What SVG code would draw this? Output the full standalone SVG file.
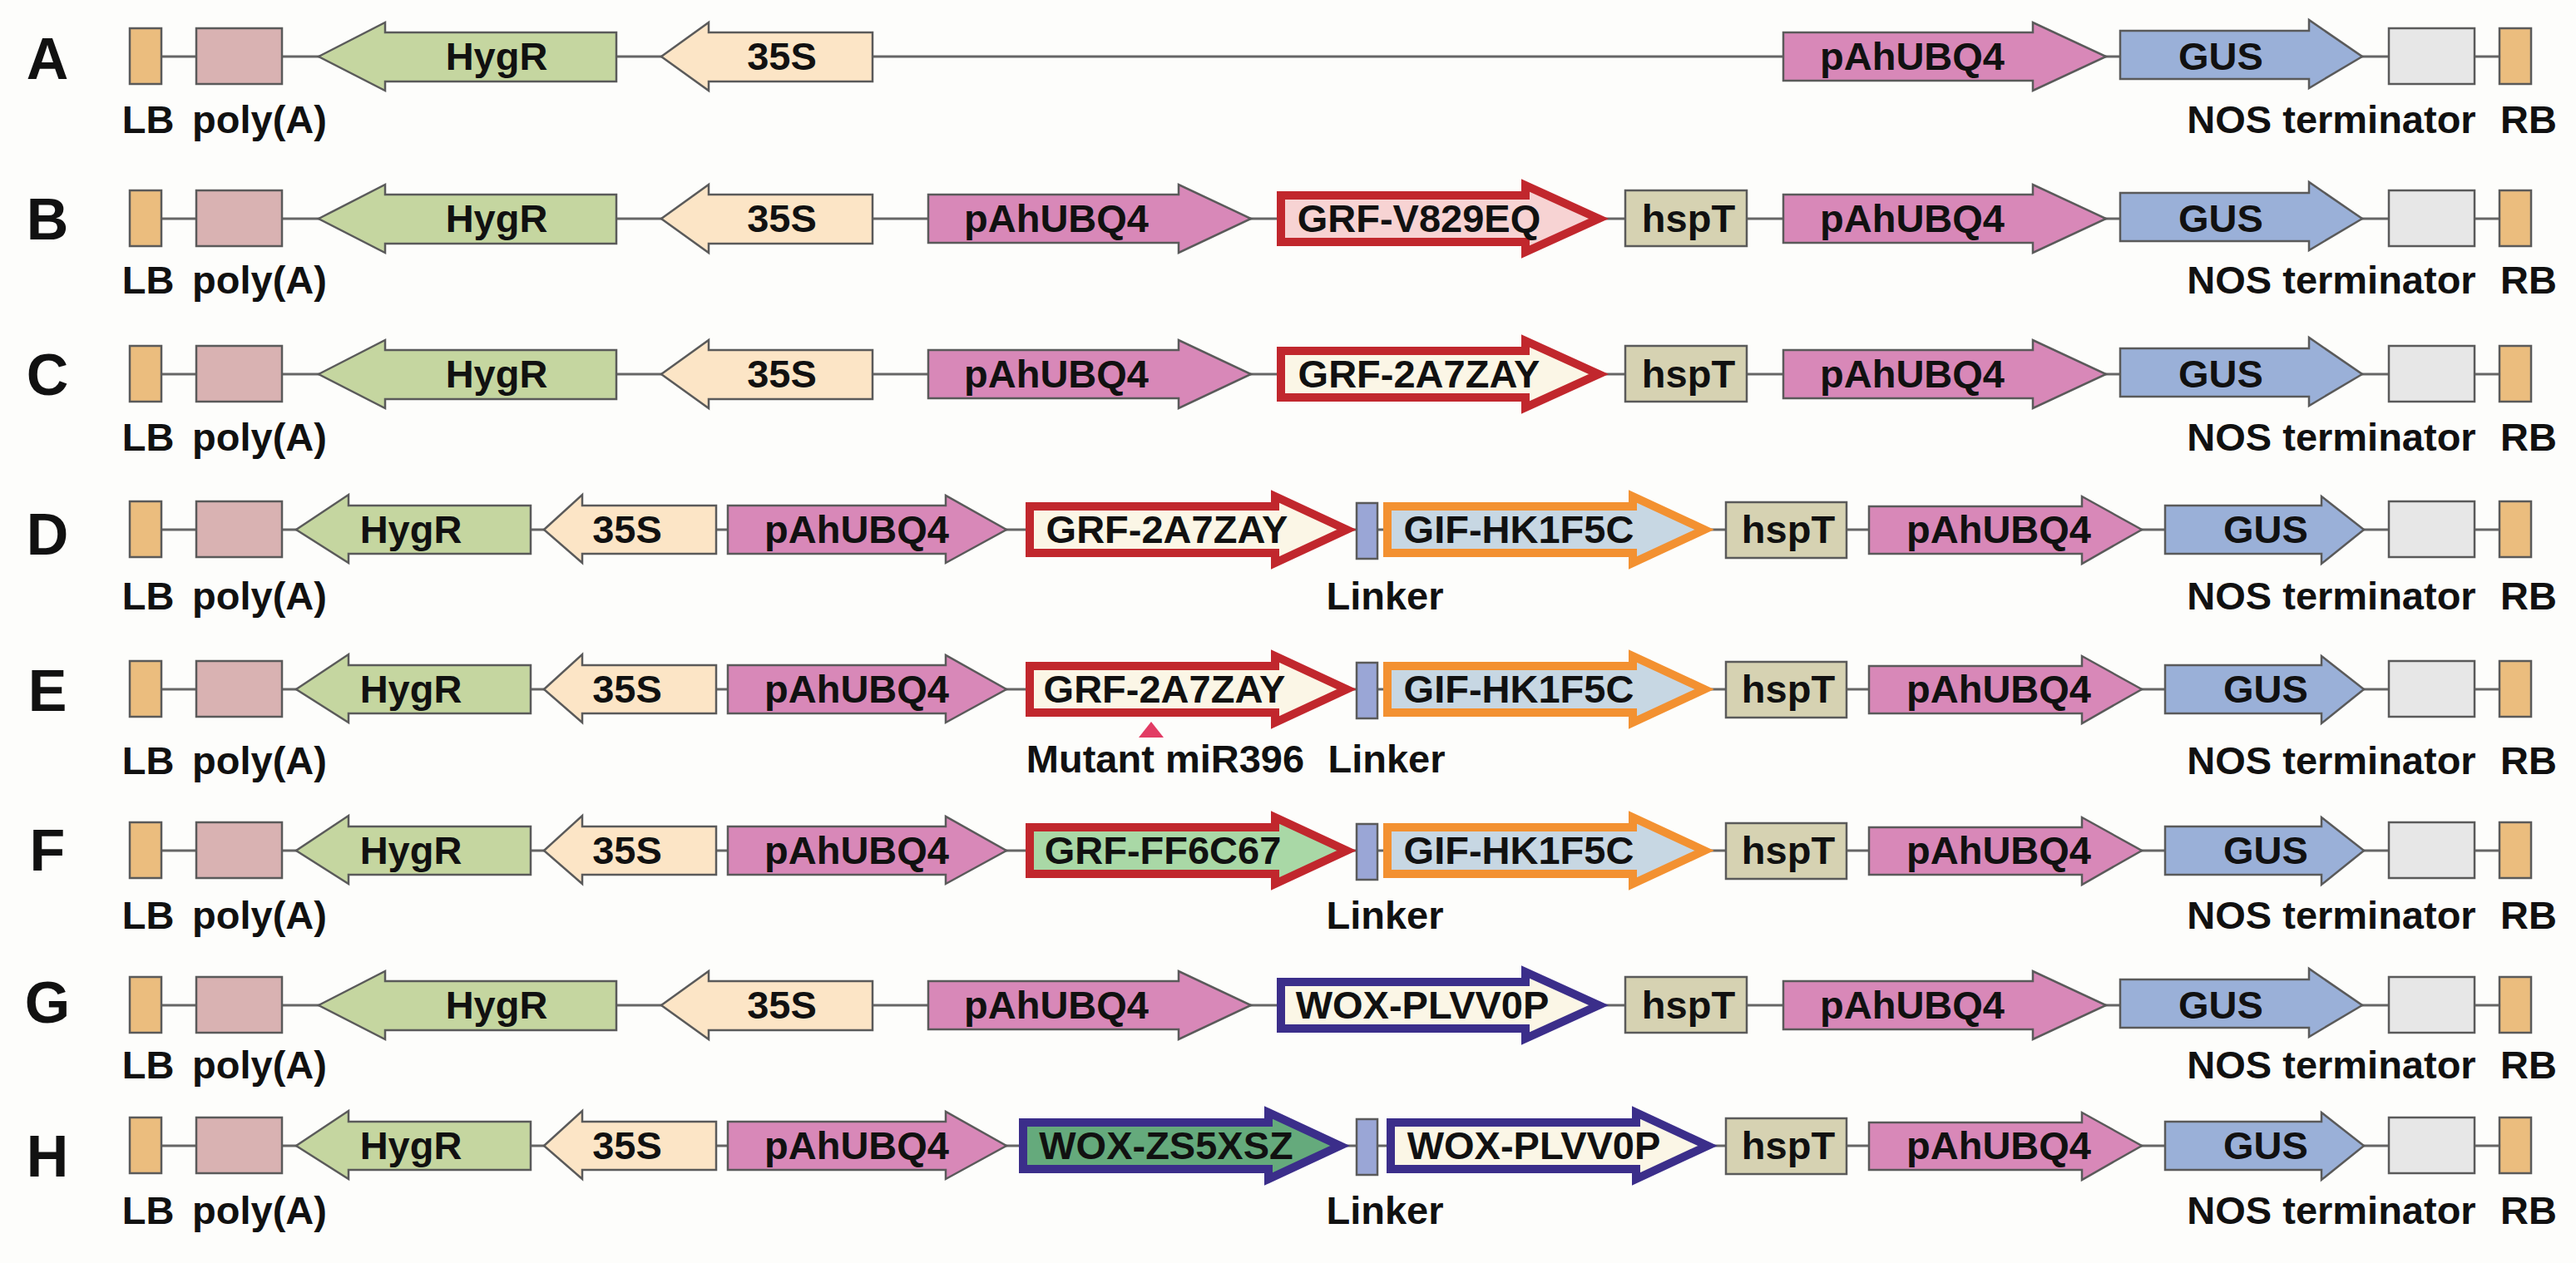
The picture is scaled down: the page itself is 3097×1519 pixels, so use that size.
<svg xmlns="http://www.w3.org/2000/svg" xmlns:xlink="http://www.w3.org/1999/xlink" width="3097" height="1519" viewBox="0 0 3097 1519">
<style>
.bg{fill:#fdfdfb}
.sh{stroke:#5a5a5a;stroke-width:2.5}
.lb{fill:#ebbd7e}
.pa{fill:#d9b2b2}
.hy{fill:#c5d6a0}
.s35{fill:#fce5c6}
.ubq{fill:#d888b8}
.hsp{fill:#d6d2b2}
.gus{fill:#9ab0d8}
.nos{fill:#e7e7e7}
.lk{fill:#9aa6d6}
.cds{stroke-width:10;stroke-linejoin:miter;stroke-miterlimit:10}
.red{stroke:#c1272d}
.org{stroke:#f39131}
.nav{stroke:#3b2e8a}
.fpink{fill:#f7d3d3}
.fcream{fill:#fbf6e6}
.fblue{fill:#c7d7e3}
.fgreen{fill:#a9d8a6}
.fdgreen{fill:#65aa7c}
.con{stroke:#666;stroke-width:3;fill:none}
.t{font-family:'Liberation Sans',Arial,sans-serif;font-weight:bold;font-size:47px;fill:#111;text-anchor:middle}
.L{font-family:'Liberation Sans',Arial,sans-serif;font-weight:bold;font-size:70px;fill:#111;text-anchor:middle}
.mut{fill:#e23b63}
</style>
<defs>
<rect id="lb" class="sh lb" x="156" y="-34" width="38" height="67"/>
<rect id="poly" class="sh pa" x="236" y="-34" width="103" height="67"/>
<rect id="nos" class="sh nos" x="2872" y="-34" width="103" height="67"/>
<rect id="rb" class="sh lb" x="3005" y="-34" width="38" height="67"/>
<polygon id="hygr1" class="sh hy" points="383,0 463,-41 463,-29 741,-29 741,30 463,30 463,41"/>
<polygon id="s35a" class="sh s35" points="795,0 852,-41 852,-29 1049,-29 1049,30 852,30 852,41"/>
<polygon id="ubq1a" class="sh ubq" points="1116,-29 1417,-29 1417,-41 1504,0 1417,41 1417,29 1116,29"/>
<path id="cds1" d="M1540,-28 H1834 V-40 L1922,0 L1834,40 V28 H1540 Z"/>
<rect id="hsp1" class="sh hsp" x="1954" y="-34" width="146" height="67"/>
<polygon id="ubq1b" class="sh ubq" points="2144,-29 2444,-29 2444,-41 2532,0 2444,41 2444,29 2144,29"/>
<polygon id="gus1" class="sh gus" points="2549,-31 2776,-31 2776,-44 2840,0 2776,38 2776,27 2549,27"/>
<polygon id="hygr2" class="sh hy" points="356,0 419,-42 419,-29 638,-29 638,29 419,29 419,40"/>
<polygon id="s35b" class="sh s35" points="654,0 700,-42 700,-29 861,-29 861,29 700,29 700,40"/>
<polygon id="ubq2a" class="sh ubq" points="875,-29 1137,-29 1137,-41 1210,0 1137,40 1137,29 875,29"/>
<path id="cds2a" d="M1238,-28 H1533 V-40 L1619,0 L1533,40 V28 H1238 Z"/>
<rect id="lk" class="sh lk" x="1631" y="-32" width="25" height="67"/>
<path id="cds2b" d="M1668,-28 H1963 V-40 L2049,0 L1963,40 V28 H1668 Z"/>
<rect id="hsp2" class="sh hsp" x="2075" y="-33" width="145" height="67"/>
<polygon id="ubq2b" class="sh ubq" points="2247,-28 2503,-28 2503,-40 2575,0 2503,41 2503,29 2247,29"/>
<polygon id="gus2" class="sh gus" points="2603,-29 2791,-29 2791,-40 2842,0 2791,41 2791,29 2603,29"/>
</defs>
<rect class="bg" x="0" y="0" width="3097" height="1519"/>

<g id="connectors">
<line class="con" x1="194" y1="68" x2="3005" y2="68"/>
<line class="con" x1="194" y1="263" x2="3005" y2="263"/>
<line class="con" x1="194" y1="450" x2="3005" y2="450"/>
<line class="con" x1="194" y1="637" x2="3005" y2="637"/>
<line class="con" x1="194" y1="829" x2="3005" y2="829"/>
<line class="con" x1="194" y1="1023" x2="3005" y2="1023"/>
<line class="con" x1="194" y1="1209" x2="3005" y2="1209"/>
<line class="con" x1="194" y1="1378" x2="3005" y2="1378"/>
</g>

<!-- Row A -->
<g id="rowA" transform="translate(0,68)">
<text class="L" x="57" y="27">A</text>
<g id="A-LB"><use xlink:href="#lb"/><text class="t" x="178" y="92">LB</text></g>
<g id="A-polyA"><use xlink:href="#poly"/><text class="t" x="312" y="92">poly(A)</text></g>
<g id="A-HygR"><use xlink:href="#hygr1"/><text class="t" x="597" y="16">HygR</text></g>
<g id="A-35S"><use xlink:href="#s35a"/><text class="t" x="940" y="16">35S</text></g>
<g id="A-pAhUBQ4"><use xlink:href="#ubq1b"/><text class="t" x="2299" y="16">pAhUBQ4</text></g>
<g id="A-GUS"><use xlink:href="#gus1"/><text class="t" x="2670" y="16">GUS</text></g>
<g id="A-NOS"><use xlink:href="#nos"/><text class="t" x="2803" y="92">NOS terminator</text></g>
<g id="A-RB"><use xlink:href="#rb"/><text class="t" x="3040" y="92">RB</text></g>
</g>

<!-- Row B -->
<g id="rowB" transform="translate(0,263)">
<text class="L" x="57" y="25">B</text>
<g id="B-LB"><use xlink:href="#lb"/><text class="t" x="178" y="90">LB</text></g>
<g id="B-polyA"><use xlink:href="#poly"/><text class="t" x="312" y="90">poly(A)</text></g>
<g id="B-HygR"><use xlink:href="#hygr1"/><text class="t" x="597" y="16">HygR</text></g>
<g id="B-35S"><use xlink:href="#s35a"/><text class="t" x="940" y="16">35S</text></g>
<g id="B-pAhUBQ4a"><use xlink:href="#ubq1a"/><text class="t" x="1270" y="16">pAhUBQ4</text></g>
<g id="B-GRF"><use xlink:href="#cds1" class="cds red fpink"/><text class="t" x="1706" y="16">GRF-V829EQ</text></g>
<g id="B-hspT"><use xlink:href="#hsp1"/><text class="t" x="2030" y="16">hspT</text></g>
<g id="B-pAhUBQ4b"><use xlink:href="#ubq1b"/><text class="t" x="2299" y="16">pAhUBQ4</text></g>
<g id="B-GUS"><use xlink:href="#gus1"/><text class="t" x="2670" y="16">GUS</text></g>
<g id="B-NOS"><use xlink:href="#nos"/><text class="t" x="2803" y="90">NOS terminator</text></g>
<g id="B-RB"><use xlink:href="#rb"/><text class="t" x="3040" y="90">RB</text></g>
</g>

<!-- Row C -->
<g id="rowC" transform="translate(0,450)">
<text class="L" x="57" y="25">C</text>
<g id="C-LB"><use xlink:href="#lb"/><text class="t" x="178" y="92">LB</text></g>
<g id="C-polyA"><use xlink:href="#poly"/><text class="t" x="312" y="92">poly(A)</text></g>
<g id="C-HygR"><use xlink:href="#hygr1"/><text class="t" x="597" y="16">HygR</text></g>
<g id="C-35S"><use xlink:href="#s35a"/><text class="t" x="940" y="16">35S</text></g>
<g id="C-pAhUBQ4a"><use xlink:href="#ubq1a"/><text class="t" x="1270" y="16">pAhUBQ4</text></g>
<g id="C-GRF"><use xlink:href="#cds1" class="cds red fcream"/><text class="t" x="1706" y="16">GRF-2A7ZAY</text></g>
<g id="C-hspT"><use xlink:href="#hsp1"/><text class="t" x="2030" y="16">hspT</text></g>
<g id="C-pAhUBQ4b"><use xlink:href="#ubq1b"/><text class="t" x="2299" y="16">pAhUBQ4</text></g>
<g id="C-GUS"><use xlink:href="#gus1"/><text class="t" x="2670" y="16">GUS</text></g>
<g id="C-NOS"><use xlink:href="#nos"/><text class="t" x="2803" y="92">NOS terminator</text></g>
<g id="C-RB"><use xlink:href="#rb"/><text class="t" x="3040" y="92">RB</text></g>
</g>

<!-- Row D -->
<g id="rowD" transform="translate(0,637)">
<text class="L" x="57" y="30">D</text>
<g id="D-LB"><use xlink:href="#lb"/><text class="t" x="178" y="96">LB</text></g>
<g id="D-polyA"><use xlink:href="#poly"/><text class="t" x="312" y="96">poly(A)</text></g>
<g id="D-HygR"><use xlink:href="#hygr2"/><text class="t" x="494" y="16">HygR</text></g>
<g id="D-35S"><use xlink:href="#s35b"/><text class="t" x="754" y="16">35S</text></g>
<g id="D-pAhUBQ4a"><use xlink:href="#ubq2a"/><text class="t" x="1030" y="16">pAhUBQ4</text></g>
<g id="D-GRF"><use xlink:href="#cds2a" class="cds red fcream"/><text class="t" x="1403" y="16">GRF-2A7ZAY</text></g>
<g id="D-Linker"><use xlink:href="#lk"/><text class="t" x="1665" y="96">Linker</text></g>
<g id="D-GIF"><use xlink:href="#cds2b" class="cds org fblue"/><text class="t" x="1826" y="16">GIF-HK1F5C</text></g>
<g id="D-hspT"><use xlink:href="#hsp2"/><text class="t" x="2150" y="16">hspT</text></g>
<g id="D-pAhUBQ4b"><use xlink:href="#ubq2b"/><text class="t" x="2403" y="16">pAhUBQ4</text></g>
<g id="D-GUS"><use xlink:href="#gus2"/><text class="t" x="2724" y="16">GUS</text></g>
<g id="D-NOS"><use xlink:href="#nos"/><text class="t" x="2803" y="96">NOS terminator</text></g>
<g id="D-RB"><use xlink:href="#rb"/><text class="t" x="3040" y="96">RB</text></g>
</g>

<!-- Row E -->
<g id="rowE" transform="translate(0,829)">
<text class="L" x="57" y="26">E</text>
<g id="E-LB"><use xlink:href="#lb"/><text class="t" x="178" y="102">LB</text></g>
<g id="E-polyA"><use xlink:href="#poly"/><text class="t" x="312" y="102">poly(A)</text></g>
<g id="E-HygR"><use xlink:href="#hygr2"/><text class="t" x="494" y="16">HygR</text></g>
<g id="E-35S"><use xlink:href="#s35b"/><text class="t" x="754" y="16">35S</text></g>
<g id="E-pAhUBQ4a"><use xlink:href="#ubq2a"/><text class="t" x="1030" y="16">pAhUBQ4</text></g>
<g id="E-GRF"><use xlink:href="#cds2a" class="cds red fcream"/><text class="t" x="1400" y="16">GRF-2A7ZAY</text></g>
<g id="E-mutant"><polygon class="mut" points="1384,39 1369,58 1399,58"/><text class="t" x="1401" y="100">Mutant miR396</text></g>
<g id="E-Linker"><use xlink:href="#lk"/><text class="t" x="1667" y="100">Linker</text></g>
<g id="E-GIF"><use xlink:href="#cds2b" class="cds org fblue"/><text class="t" x="1826" y="16">GIF-HK1F5C</text></g>
<g id="E-hspT"><use xlink:href="#hsp2"/><text class="t" x="2150" y="16">hspT</text></g>
<g id="E-pAhUBQ4b"><use xlink:href="#ubq2b"/><text class="t" x="2403" y="16">pAhUBQ4</text></g>
<g id="E-GUS"><use xlink:href="#gus2"/><text class="t" x="2724" y="16">GUS</text></g>
<g id="E-NOS"><use xlink:href="#nos"/><text class="t" x="2803" y="102">NOS terminator</text></g>
<g id="E-RB"><use xlink:href="#rb"/><text class="t" x="3040" y="102">RB</text></g>
</g>

<!-- Row F -->
<g id="rowF" transform="translate(0,1023)">
<text class="L" x="57" y="24">F</text>
<g id="F-LB"><use xlink:href="#lb"/><text class="t" x="178" y="94">LB</text></g>
<g id="F-polyA"><use xlink:href="#poly"/><text class="t" x="312" y="94">poly(A)</text></g>
<g id="F-HygR"><use xlink:href="#hygr2"/><text class="t" x="494" y="16">HygR</text></g>
<g id="F-35S"><use xlink:href="#s35b"/><text class="t" x="754" y="16">35S</text></g>
<g id="F-pAhUBQ4a"><use xlink:href="#ubq2a"/><text class="t" x="1030" y="16">pAhUBQ4</text></g>
<g id="F-GRF"><use xlink:href="#cds2a" class="cds red fgreen"/><text class="t" x="1398" y="16">GRF-FF6C67</text></g>
<g id="F-Linker"><use xlink:href="#lk"/><text class="t" x="1665" y="94">Linker</text></g>
<g id="F-GIF"><use xlink:href="#cds2b" class="cds org fblue"/><text class="t" x="1826" y="16">GIF-HK1F5C</text></g>
<g id="F-hspT"><use xlink:href="#hsp2"/><text class="t" x="2150" y="16">hspT</text></g>
<g id="F-pAhUBQ4b"><use xlink:href="#ubq2b"/><text class="t" x="2403" y="16">pAhUBQ4</text></g>
<g id="F-GUS"><use xlink:href="#gus2"/><text class="t" x="2724" y="16">GUS</text></g>
<g id="F-NOS"><use xlink:href="#nos"/><text class="t" x="2803" y="94">NOS terminator</text></g>
<g id="F-RB"><use xlink:href="#rb"/><text class="t" x="3040" y="94">RB</text></g>
</g>

<!-- Row G -->
<g id="rowG" transform="translate(0,1209)">
<text class="L" x="57" y="21">G</text>
<g id="G-LB"><use xlink:href="#lb"/><text class="t" x="178" y="88">LB</text></g>
<g id="G-polyA"><use xlink:href="#poly"/><text class="t" x="312" y="88">poly(A)</text></g>
<g id="G-HygR"><use xlink:href="#hygr1"/><text class="t" x="597" y="16">HygR</text></g>
<g id="G-35S"><use xlink:href="#s35a"/><text class="t" x="940" y="16">35S</text></g>
<g id="G-pAhUBQ4a"><use xlink:href="#ubq1a"/><text class="t" x="1270" y="16">pAhUBQ4</text></g>
<g id="G-WOX"><use xlink:href="#cds1" class="cds nav fcream"/><text class="t" x="1710" y="16">WOX-PLVV0P</text></g>
<g id="G-hspT"><use xlink:href="#hsp1"/><text class="t" x="2030" y="16">hspT</text></g>
<g id="G-pAhUBQ4b"><use xlink:href="#ubq1b"/><text class="t" x="2299" y="16">pAhUBQ4</text></g>
<g id="G-GUS"><use xlink:href="#gus1"/><text class="t" x="2670" y="16">GUS</text></g>
<g id="G-NOS"><use xlink:href="#nos"/><text class="t" x="2803" y="88">NOS terminator</text></g>
<g id="G-RB"><use xlink:href="#rb"/><text class="t" x="3040" y="88">RB</text></g>
</g>

<!-- Row H -->
<g id="rowH" transform="translate(0,1378)">
<text class="L" x="57" y="37">H</text>
<g id="H-LB"><use xlink:href="#lb"/><text class="t" x="178" y="94">LB</text></g>
<g id="H-polyA"><use xlink:href="#poly"/><text class="t" x="312" y="94">poly(A)</text></g>
<g id="H-HygR"><use xlink:href="#hygr2"/><text class="t" x="494" y="16">HygR</text></g>
<g id="H-35S"><use xlink:href="#s35b"/><text class="t" x="754" y="16">35S</text></g>
<g id="H-pAhUBQ4a"><use xlink:href="#ubq2a"/><text class="t" x="1030" y="16">pAhUBQ4</text></g>
<g id="H-WOXa"><use xlink:href="#cds2a" class="cds nav fdgreen" transform="translate(-8,0)"/><text class="t" x="1402" y="16">WOX-ZS5XSZ</text></g>
<g id="H-Linker"><use xlink:href="#lk"/><text class="t" x="1665" y="94">Linker</text></g>
<g id="H-WOXb"><use xlink:href="#cds2b" class="cds nav fcream" transform="translate(4,0)"/><text class="t" x="1844" y="16">WOX-PLVV0P</text></g>
<g id="H-hspT"><use xlink:href="#hsp2"/><text class="t" x="2150" y="16">hspT</text></g>
<g id="H-pAhUBQ4b"><use xlink:href="#ubq2b"/><text class="t" x="2403" y="16">pAhUBQ4</text></g>
<g id="H-GUS"><use xlink:href="#gus2"/><text class="t" x="2724" y="16">GUS</text></g>
<g id="H-NOS"><use xlink:href="#nos"/><text class="t" x="2803" y="94">NOS terminator</text></g>
<g id="H-RB"><use xlink:href="#rb"/><text class="t" x="3040" y="94">RB</text></g>
</g>
</svg>
